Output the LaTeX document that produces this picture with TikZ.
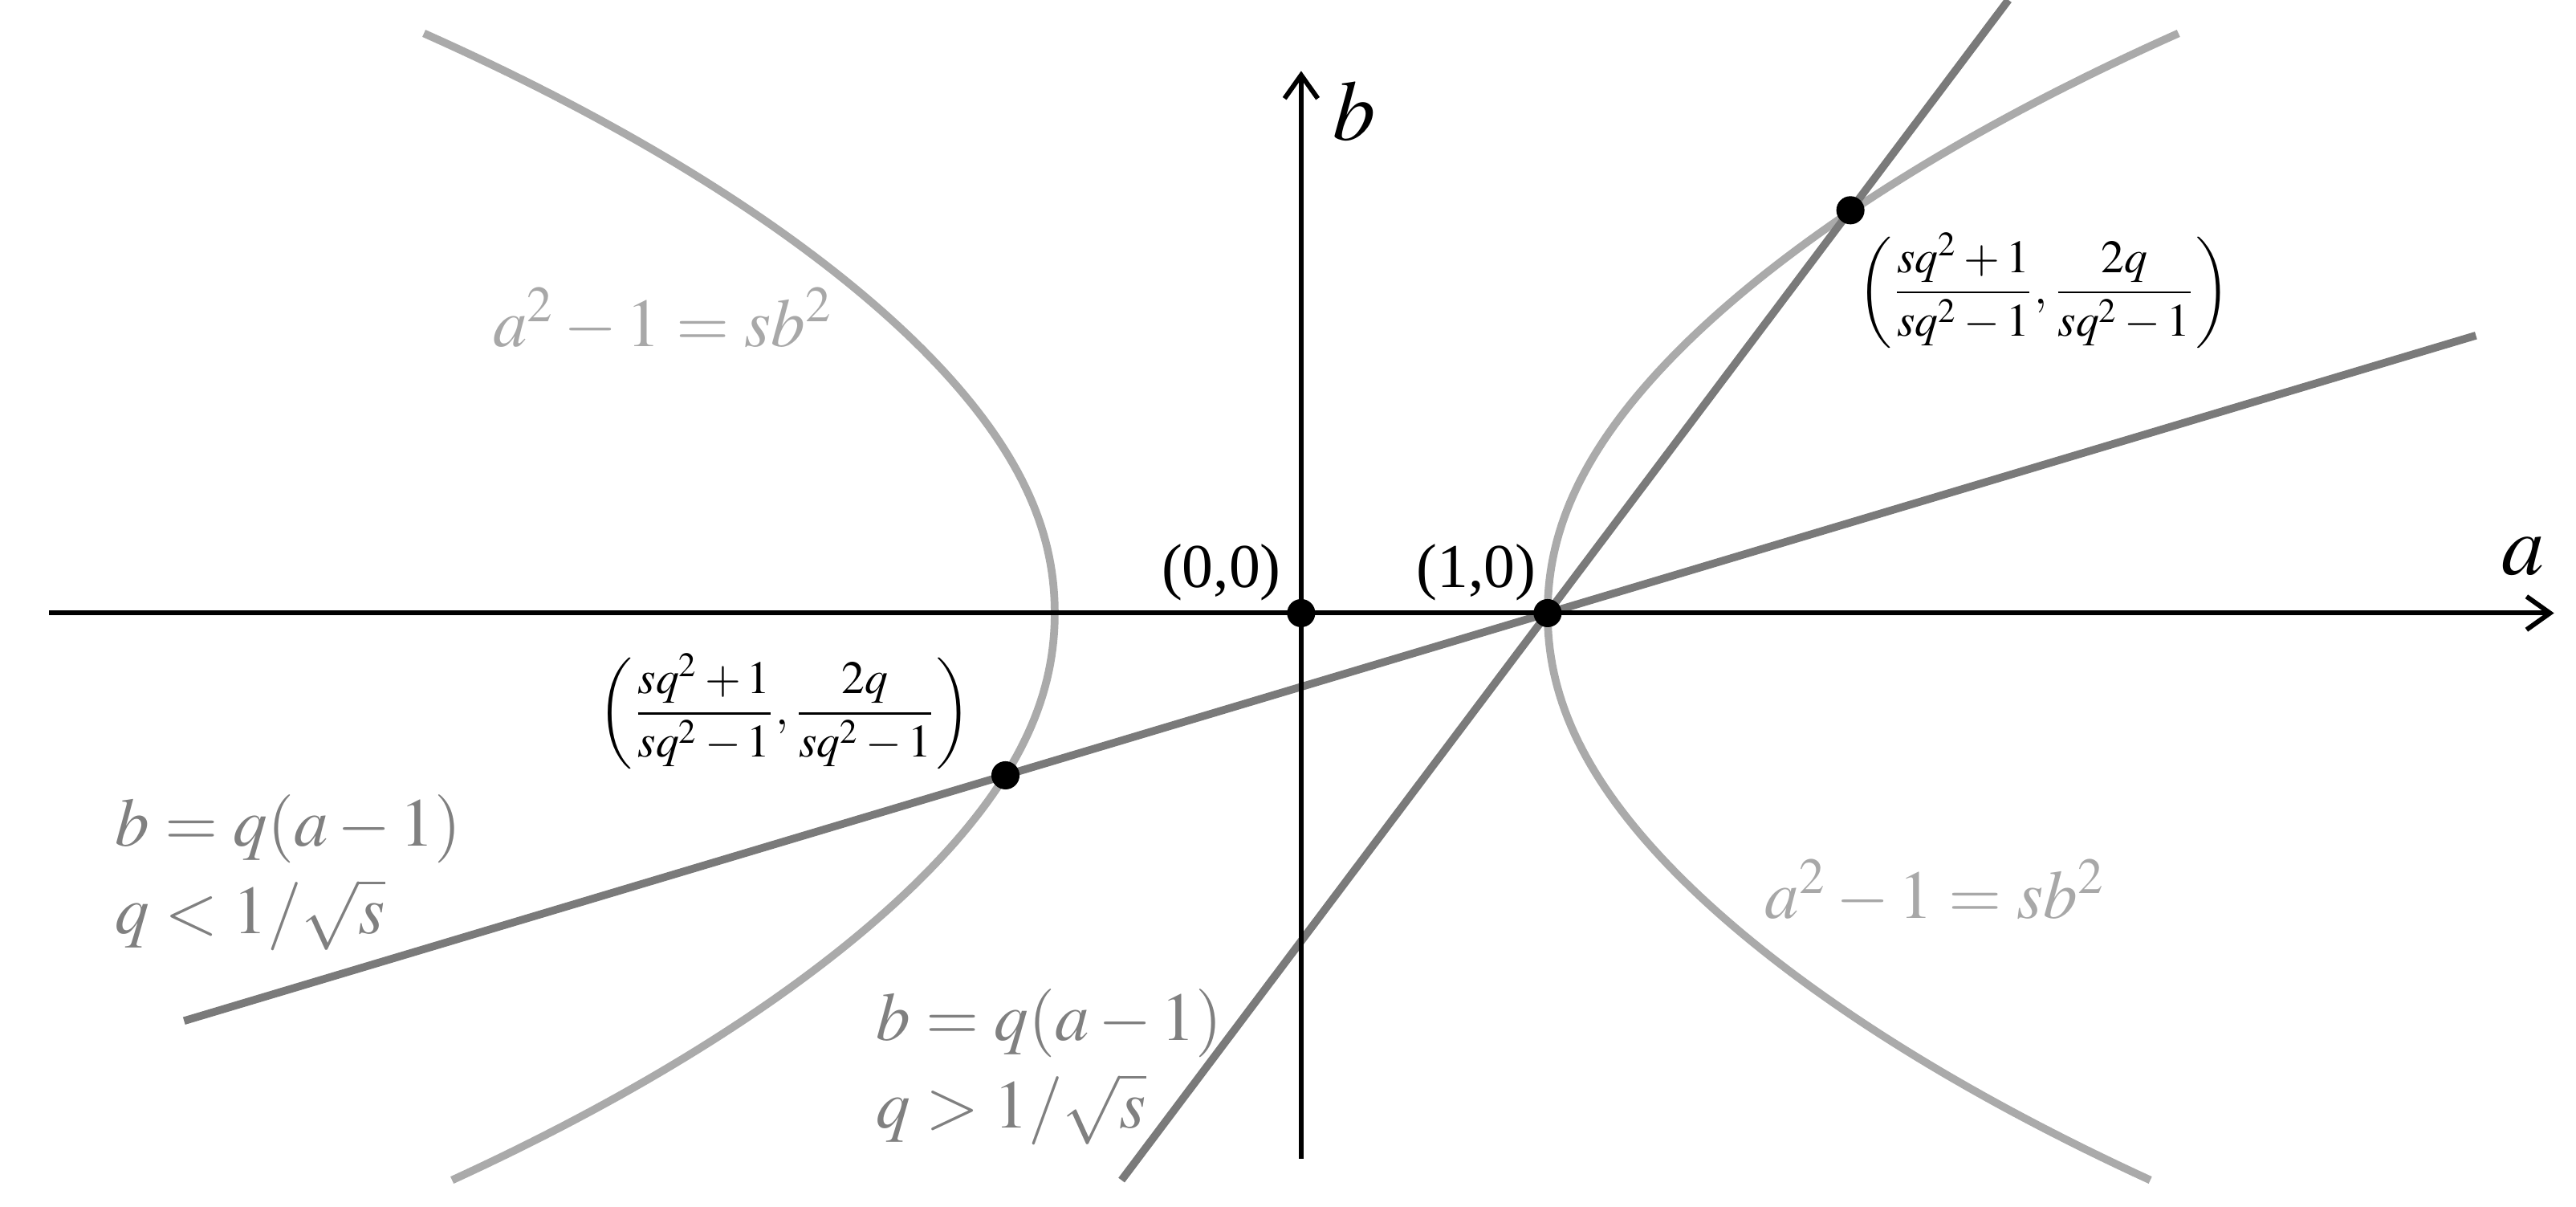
\documentclass[tikz,border=0pt]{standalone}
\usepackage{mathptmx}
\usepackage{fontspec}
\setmainfont{Liberation Serif}
\usetikzlibrary{arrows.meta}
\definecolor{hypgray}{RGB}{170,170,170}
\definecolor{lingray}{RGB}{122,122,122}
\definecolor{lblgray}{RGB}{128,128,128}
\definecolor{hyplbl}{RGB}{168,168,168}
\begin{document}
\begin{tikzpicture}[x=2cm,y=2cm,
  axis/.style={line width=1.1pt,-{Straight Barb[length=1.9mm,width=2.7mm,line width=1.1pt]}},
  hypline/.style={hypgray,line width=1.8pt},
  qline/.style={lingray,line width=1.8pt},
  pt/.style={circle,fill=black,inner sep=0pt,minimum size=6.5pt},
  axlbl/.style={inner sep=0pt,anchor=base west,font=\fontsize{19.7}{24}\selectfont},
  ptlbl/.style={inner sep=0pt,anchor=base west,font=\fontsize{14.4}{17}\selectfont},
  eqlbl/.style={inner sep=0pt,anchor=base west,font=\fontsize{15.8}{20.3}\selectfont},
  fraclbl/.style={inner sep=0pt,font=\fontsize{10.7}{12.5}\selectfont}
]
\useasboundingbox (-5.28,-2.407) rectangle (5.173,2.487);

% hyperbola branches
\draw[hypline] plot[domain=-2.3:2.353,samples=150,variable=\t]
  ({sqrt(1+pow(0.9027*abs(\t)/(1-0.161*abs(\t)),2))},\t);
\draw[hypline] plot[domain=-2.3:2.353,samples=150,variable=\t]
  ({-sqrt(1+pow(0.9027*abs(\t)/(1-0.161*abs(\t)),2))},\t);

% lines through (1,0)
\coordinate (s1) at (-0.729,-2.3);
\coordinate (s2) at (2.870,2.487);
\coordinate (f1) at (-4.533,-1.654);
\coordinate (f2) at (4.767,1.126);
\draw[qline] (s1) -- (s2);
\draw[qline] (f1) -- (f2);

% axes
\coordinate (xs) at (-5.08,0);
\coordinate (xe) at (5.084,0);
\coordinate (ys) at (0,-2.213);
\coordinate (ye) at (0,2.199);
\draw[axis] (xs) -- (xe);
\draw[axis] (ys) -- (ye);

% points
\node[pt] (O) at (0,0) {};
\node[pt] (P1) at (1,0) {};
\node[pt] (PL) at (-1.2,-0.658) {};
\node[pt] (PR) at (2.2287,1.634) {};

% labels
\node[axlbl] (la) at (4.867,0.157) {$a$};
\node[axlbl] (lb) at (0.127,1.917) {$b$};
\node[ptlbl] (l00) at (-0.57,0.103) {(0,0)};
\node[ptlbl] (l10) at (0.465,0.103) {(1,0)};
\node[eqlbl,text=hyplbl] (h1) at (-3.283,1.081) {$a^2-1=sb^2$};
\node[eqlbl,text=hyplbl] (h2) at (1.879,-1.237) {$a^2-1=sb^2$};
\node[eqlbl,text=lblgray] (q1) at (-4.815,-0.944)
  {\begin{tabular}[t]{@{}l@{}}$b=q(a-1)$\\$q<1/\sqrt{s}$\end{tabular}};
\node[eqlbl,text=lblgray] (q2) at (-1.727,-1.732)
  {\begin{tabular}[t]{@{}l@{}}$b=q(a-1)$\\$q>1/\sqrt{s}$\end{tabular}};
\node[fraclbl] (fr) at (3.013,1.309) {$\displaystyle\left(\frac{sq^2+1}{sq^2-1},\frac{2q}{sq^2-1}\right)$};
\node[fraclbl] (fl) at (-2.096,-0.399) {$\displaystyle\left(\frac{sq^2+1}{sq^2-1},\frac{2q}{sq^2-1}\right)$};
\end{tikzpicture}
\end{document}
